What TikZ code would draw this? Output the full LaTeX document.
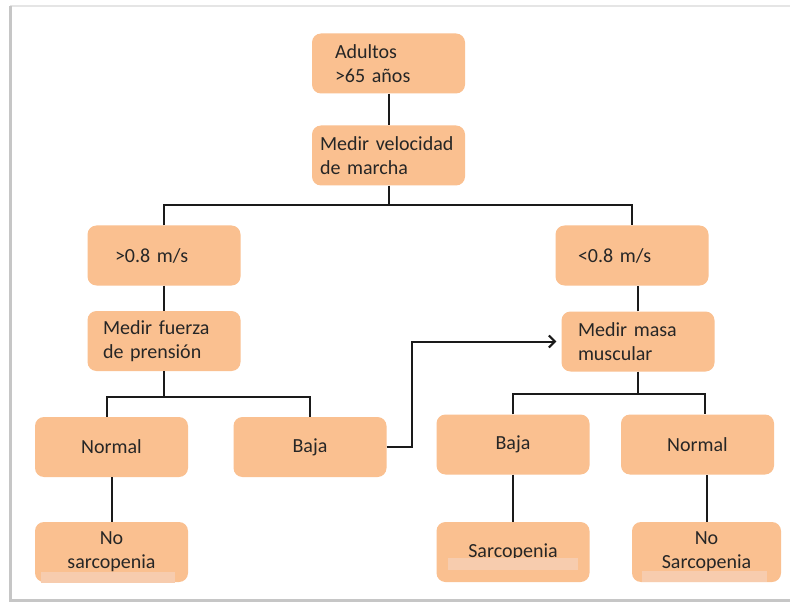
\documentclass[tikz,border=0pt]{standalone}
\usepackage{fontspec}
\setmainfont{Carlito}
\usetikzlibrary{positioning, arrows.meta, calc}
\definecolor{boxfill}{HTML}{FAC090}
\definecolor{stripfill}{HTML}{F7CCAE}
\definecolor{txtgray}{HTML}{262626}
\definecolor{linegray}{HTML}{1A1A1A}

\begin{document}
\begin{tikzpicture}[x=1pt, y=-1pt,
    box/.style={fill=boxfill, rounded corners=9pt, text=txtgray, inner sep=3pt,
                minimum height=60pt, minimum width=153pt,
                font=\fontsize{20}{24}\selectfont},
    link/.style={draw=linegray, line width=2pt},
    strip/.style={fill=stripfill}]
    \useasboundingbox (0,0) rectangle (790,604);
    \fill[white] (0,0) rectangle (790,604);
    % frame
    \draw[gray!20, line width=2pt] (10,6) -- (795,6);
    \draw[gray!45, line width=3pt] (10,6) -- (10,600) -- (795,600);

    \node[box, text width=107pt, align=left] (adultos) at (388.5,63.5) {Adultos\\>65 años};
    \node[box, text width=137pt, align=left] (velocidad) at (388.5,155.5) {Medir velocidad\\de marcha};
    \node[box, text width=98pt, align=left] (mayor) at (164,255.5) {>0.8 m/s};
    \node[box, text width=108pt, align=left] (menor) at (632,255.5) {<0.8 m/s};
    \node[box, text width=122pt, align=left] (fuerza) at (164,341) {Medir fuerza\\de prensión};
    \node[box, text width=120pt, align=left] (masa) at (638,341.5) {Medir masa\\muscular};
    \node[box] (normalA) at (111.5,447) {Normal};
    \node[box] (bajaA) at (310,447) {Baja};
    \node[box] (bajaB) at (513,444.5) {\raisebox{-3pt}{Baja}};
    \node[box] (normalB) at (697.5,444.5) {Normal};
    \node[box, align=center] (nosarcA) at (111.5,552) {No\\sarcopenia};
    \node[box] (sarcB) at (513,552) {Sarcopenia};
    \node[box, align=center, minimum width=149pt] (nosarcB) at (706.5,552) {No\\Sarcopenia};

    \draw[link] (adultos) -- (velocidad);
    \draw[link] (velocidad.south) -- ++(0,19) coordinate (t1);
    \draw[link] (mayor.north) |- (t1) -| (menor.north);
    \draw[link] (mayor) -- (fuerza);
    \draw[link] (masa.north) -- (masa.north |- menor.south);
    \draw[link] (fuerza.south) -- ++(0,26) coordinate (t2);
    \draw[link] ([xshift=-5pt]normalA.north) |- (t2) -| (bajaA.north);
    \draw[link] (masa.south) -- ++(0,22) coordinate (t3);
    \draw[link] (bajaB.north) |- (t3) -| ([xshift=7pt]normalB.north);
    \draw[link] (nosarcA.north) -- (nosarcA.north |- normalA.south);
    \draw[link] (bajaB) -- (sarcB);
    \draw[link] (nosarcB.north) -- (nosarcB.north |- normalB.south);
    \draw[link, -{Straight Barb[length=6pt]}, shorten >=5pt]
      (bajaA.east) -- ++(25,0) |- (masa.west);

    \fill[strip] (41,572) rectangle (175,583);
    \fill[strip] (448,558) rectangle (578,570);
    \fill[strip] (642,571) rectangle (767,582);
  \end{tikzpicture}
\end{document}
